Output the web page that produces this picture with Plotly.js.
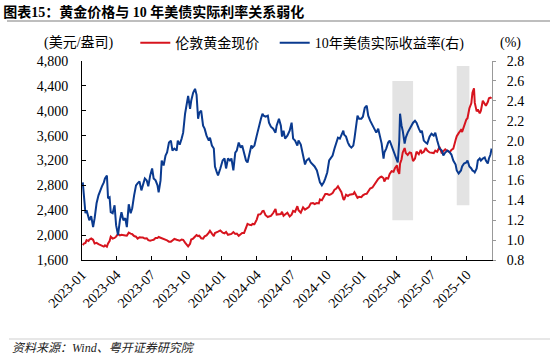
<!DOCTYPE html>
<html>
<head>
<meta charset="utf-8">
<script src="https://cdn.plot.ly/plotly-3.0.1.min.js"></script>
<style>
  html, body { margin: 0; padding: 0; background: #fff; }
  #chart { width: 550px; height: 357px; }
</style>
</head>
<body>
<div id="chart"></div>
<script>
// ---------------- DATA ----------------
const dates = [
  // 2023
  '2023-01-03','2023-01-06','2023-01-10','2023-01-13','2023-01-18','2023-01-20','2023-01-25','2023-01-30',
  '2023-02-03','2023-02-08','2023-02-13','2023-02-17','2023-02-22','2023-02-27',
  '2023-03-02','2023-03-07','2023-03-10','2023-03-14','2023-03-17','2023-03-22','2023-03-27','2023-03-31',
  '2023-04-05','2023-04-10','2023-04-14','2023-04-19','2023-04-24','2023-04-28',
  '2023-05-03','2023-05-08','2023-05-12','2023-05-17','2023-05-22','2023-05-26','2023-05-31',
  '2023-06-05','2023-06-09','2023-06-14','2023-06-19','2023-06-23','2023-06-28',
  '2023-07-03','2023-07-07','2023-07-12','2023-07-17','2023-07-20','2023-07-25','2023-07-28',
  '2023-08-02','2023-08-07','2023-08-11','2023-08-16','2023-08-21','2023-08-25','2023-08-30',
  '2023-09-05','2023-09-08','2023-09-13','2023-09-18','2023-09-22','2023-09-27',
  '2023-10-02','2023-10-05','2023-10-10','2023-10-13','2023-10-18','2023-10-23','2023-10-27','2023-10-31',
  '2023-11-03','2023-11-08','2023-11-13','2023-11-17','2023-11-22','2023-11-28',
  '2023-12-01','2023-12-06','2023-12-11','2023-12-14','2023-12-19','2023-12-22','2023-12-28',
  // 2024
  '2024-01-03','2024-01-08','2024-01-12','2024-01-17','2024-01-22','2024-01-26','2024-01-31',
  '2024-02-05','2024-02-09','2024-02-14','2024-02-19','2024-02-23','2024-02-28',
  '2024-03-04','2024-03-08','2024-03-13','2024-03-18','2024-03-21','2024-03-26',
  '2024-04-01','2024-04-05','2024-04-10','2024-04-12','2024-04-16','2024-04-19','2024-04-24','2024-04-30',
  '2024-05-03','2024-05-08','2024-05-14','2024-05-20','2024-05-23','2024-05-29',
  '2024-06-03','2024-06-06','2024-06-10','2024-06-14','2024-06-20','2024-06-26',
  '2024-07-01','2024-07-05','2024-07-10','2024-07-16','2024-07-19','2024-07-25','2024-07-31',
  '2024-08-05','2024-08-09','2024-08-15','2024-08-20','2024-08-26','2024-08-30',
  '2024-09-05','2024-09-10','2024-09-13','2024-09-18','2024-09-23','2024-09-27',
  '2024-10-02','2024-10-07','2024-10-11','2024-10-16','2024-10-21','2024-10-25','2024-10-30',
  '2024-11-04','2024-11-08','2024-11-13','2024-11-15','2024-11-20','2024-11-25','2024-11-29',
  '2024-12-04','2024-12-09','2024-12-12','2024-12-16','2024-12-20','2024-12-24','2024-12-30',
  // 2025
  '2025-01-03','2025-01-08','2025-01-13','2025-01-17','2025-01-22','2025-01-28',
  '2025-02-03','2025-02-07','2025-02-12','2025-02-18','2025-02-21','2025-02-26','2025-02-28',
  '2025-03-05','2025-03-10','2025-03-14','2025-03-19','2025-03-24','2025-03-28',
  '2025-04-02','2025-04-04','2025-04-08','2025-04-10','2025-04-14','2025-04-17','2025-04-22','2025-04-25','2025-04-30',
  '2025-05-05','2025-05-09','2025-05-14','2025-05-19','2025-05-23','2025-05-29',
  '2025-06-03','2025-06-06','2025-06-11','2025-06-16','2025-06-20','2025-06-26',
  '2025-07-01','2025-07-07','2025-07-11','2025-07-16','2025-07-22','2025-07-28',
  '2025-08-01','2025-08-06','2025-08-12','2025-08-18','2025-08-22','2025-08-27',
  '2025-09-02','2025-09-05','2025-09-10','2025-09-16','2025-09-19','2025-09-24','2025-09-30',
  '2025-10-03','2025-10-08','2025-10-13','2025-10-16','2025-10-20','2025-10-22','2025-10-27','2025-10-30',
  '2025-11-04','2025-11-07','2025-11-12','2025-11-17','2025-11-20','2025-11-25','2025-11-28',
  '2025-12-02','2025-12-05'
];

// London gold spot (USD/oz), left axis
const goldPrice = [
  // 2023
  1840,1865,1875,1920,1905,1926,1945,1925,
  1865,1875,1855,1840,1825,1815,
  1835,1815,1865,1905,1975,1945,1955,1975,
  2020,1995,2005,1995,1995,1990,
  2040,2025,2015,1985,1975,1945,1965,
  1960,1960,1945,1950,1920,1910,
  1920,1925,1955,1955,1970,1960,1955,
  1935,1935,1915,1895,1895,1915,1940,
  1925,1920,1910,1930,1925,1880,
  1830,1820,1860,1930,1945,1975,2000,1985,
  1990,1950,1945,1980,1995,2040,
  2070,2025,1985,2035,2040,2055,2075,
  // 2024
  2040,2030,2050,2005,2020,2020,2050,
  2020,2025,1990,2015,2035,2035,
  2115,2180,2165,2160,2180,2175,
  2250,2330,2335,2345,2385,2390,2320,2290,
  2300,2310,2355,2420,2330,2340,
  2340,2375,2310,2330,2360,2300,
  2330,2390,2375,2465,2400,2360,2445,
  2410,2430,2450,2510,2515,2500,
  2515,2510,2575,2560,2630,2660,
  2660,2645,2655,2675,2730,2745,2785,
  2740,2690,2580,2565,2650,2630,2650,
  2650,2660,2690,2645,2600,2615,2610,
  // 2025
  2640,2660,2665,2700,2750,2765,
  2815,2865,2905,2935,2940,2915,2860,
  2920,2910,2985,3030,3020,3080,
  3120,3040,2985,3150,3220,3330,3400,3320,3290,
  3330,3320,3190,3230,3340,3300,
  3370,3320,3340,3400,3360,3330,
  3330,3320,3360,3340,3420,3315,
  3350,3380,3350,3335,3370,3390,
  3530,3590,3640,3690,3660,3760,3860,
  3880,4040,4120,4290,4360,4130,3990,4020,
  3960,4000,4160,4100,4080,4140,4200,
  4210,4200
];

// 10Y US Treasury real yield (%), right axis
const realYield = [
  // 2023
  1.58,1.40,1.27,1.30,1.22,1.20,1.24,1.13,
  1.22,1.37,1.45,1.50,1.54,1.58,
  1.62,1.65,1.42,1.43,1.28,1.27,1.35,1.15,
  1.05,1.20,1.28,1.20,1.22,1.13,
  1.36,1.27,1.32,1.45,1.55,1.57,1.59,
  1.50,1.55,1.62,1.60,1.54,1.65,
  1.72,1.62,1.60,1.55,1.48,1.60,1.80,
  1.75,1.85,1.88,1.98,2.00,1.90,1.92,
  1.90,2.00,1.96,2.02,2.08,2.27,
  2.40,2.45,2.32,2.40,2.48,2.52,2.46,2.22,
  2.28,2.30,2.15,2.12,2.05,2.00,
  2.03,1.95,1.92,1.74,1.68,1.65,1.72,
  // 2024
  1.80,1.82,1.72,1.82,1.80,1.82,1.70,
  1.88,1.90,1.98,1.93,1.95,1.86,
  1.80,1.78,1.88,1.95,1.93,1.95,
  2.05,2.12,2.20,2.22,2.27,2.25,2.24,2.25,
  2.18,2.14,2.12,2.08,2.15,2.22,
  2.15,2.04,2.10,2.02,2.05,2.10,
  2.18,2.02,2.00,1.95,2.00,1.96,1.85,
  1.76,1.80,1.82,1.78,1.76,1.74,
  1.70,1.62,1.58,1.55,1.58,1.62,
  1.68,1.80,1.82,1.85,1.92,1.96,2.03,
  2.02,2.05,2.10,2.06,2.04,1.98,1.95,
  1.93,1.95,2.02,2.15,2.25,2.22,2.22,
  // 2025
  2.24,2.33,2.35,2.25,2.20,2.15,
  2.10,2.08,2.12,2.02,1.97,1.82,1.88,
  1.92,1.98,2.00,1.95,1.90,1.86,
  1.80,1.78,2.00,2.27,2.15,2.10,1.97,2.03,2.08,
  2.12,2.15,2.18,2.20,2.18,2.12,
  2.08,2.10,2.00,1.98,1.97,2.04,
  2.07,2.05,2.08,2.00,1.92,1.90,
  1.85,1.88,1.90,1.88,1.86,1.80,
  1.76,1.70,1.67,1.70,1.74,1.77,1.78,
  1.80,1.74,1.72,1.70,1.69,1.68,1.72,1.80,
  1.82,1.80,1.82,1.83,1.80,1.77,1.82,
  1.86,1.92
];

// Shaded periods (right-axis units)
const shadeStart = ['2025-03-21', '2025-09-05'];
const shadeEnd   = ['2025-05-14', '2025-10-08'];
const shadeLow   = [1.2, 1.35];
const shadeHigh  = [2.6, 2.75];

const seriesNames = ['伦敦黄金现价', '10年美债实际收益率(右)'];
const xRange = ['2023-01-01', '2025-12-06'];
const leftRange = [1600, 4800];
const rightRange = [0.8, 2.8];

// ---------------- CHART ----------------
const serif = 'Liberation Serif, "Noto Sans CJK SC", serif';
const RED = '#D7141E';
const BLUE = '#0A3A8F';

const traces = [
  {
    x: dates, y: goldPrice, type: 'scatter', mode: 'lines',
    name: seriesNames[0], line: { color: RED, width: 2 },
    yaxis: 'y', legend: 'legend'
  },
  {
    x: dates, y: realYield, type: 'scatter', mode: 'lines',
    name: seriesNames[1], line: { color: BLUE, width: 2 },
    yaxis: 'y2', legend: 'legend2'
  }
];

const shapes = shadeStart.map((s, i) => ({
  type: 'rect', xref: 'x', yref: 'y2',
  x0: s, x1: shadeEnd[i], y0: shadeLow[i], y1: shadeHigh[i],
  fillcolor: '#E3E3E3', line: { width: 0 }, layer: 'below'
}));
// title underline & footer rule (paper coords, outside plot area)
shapes.push({ type: 'line', xref: 'paper', yref: 'paper',
  x0: -0.183, x1: 1.15, y0: 1.201, y1: 1.201, line: { color: '#A8A8A8', width: 1.5 } });
shapes.push({ type: 'line', xref: 'paper', yref: 'paper',
  x0: -0.178, x1: 1.15, y0: -0.397, y1: -0.397, line: { color: '#CFCFCF', width: 1.2 } });

const layout = {
  width: 550, height: 357,
  margin: { l: 82, r: 58, t: 61, b: 97 },
  paper_bgcolor: '#fff', plot_bgcolor: '#fff',
  font: { family: serif, size: 14, color: '#000' },
  title: {
    text: '<b>图表15：黄金价格与 10 年美债实际利率关系弱化</b>',
    font: { family: serif, size: 14, color: '#000' },
    xref: 'container', yref: 'container',
    x: 0.006, xanchor: 'left', y: 0.966, yanchor: 'middle'
  },
  xaxis: {
    type: 'date', range: xRange,
    tick0: '2023-01-01', dtick: 'M3', tickformat: '%Y-%m',
    tickangle: -45, ticks: 'inside', ticklen: 4, tickcolor: '#000',
    showline: true, linecolor: '#000', linewidth: 1,
    showgrid: false, zeroline: false,
    tickfont: { family: serif, size: 14, color: '#000' }
  },
  yaxis: {
    range: leftRange, dtick: 400, tickformat: ',d',
    ticks: 'inside', ticklen: 4, tickcolor: '#000',
    showline: true, linecolor: '#000', linewidth: 1,
    showgrid: false, zeroline: false,
    ticklabelstandoff: 10,
    tickfont: { family: serif, size: 14, color: '#000' }
  },
  yaxis2: {
    range: rightRange, dtick: 0.2, tickformat: '.1f',
    overlaying: 'y', side: 'right',
    ticks: 'outside', ticklen: 3, tickcolor: '#999',
    showline: true, linecolor: '#999', linewidth: 1,
    showgrid: false, zeroline: false,
    ticklabelstandoff: 8,
    tickfont: { family: serif, size: 14, color: '#000' }
  },
  showlegend: true,
  legend: {
    orientation: 'h', x: 0.13, xanchor: 'left', y: 1.09, yanchor: 'middle',
    bgcolor: 'rgba(0,0,0,0)', borderwidth: 0,
    font: { family: serif, size: 14, color: '#000' }
  },
  legend2: {
    orientation: 'h', x: 0.47, xanchor: 'left', y: 1.09, yanchor: 'middle',
    bgcolor: 'rgba(0,0,0,0)', borderwidth: 0,
    font: { family: serif, size: 14, color: '#000' }
  },
  shapes: shapes,
  annotations: [
    { text: '(美元/盎司)', xref: 'paper', yref: 'paper', x: -0.007, y: 1.09,
      xanchor: 'center', yanchor: 'middle', showarrow: false,
      font: { family: serif, size: 14, color: '#000' } },
    { text: '(%)', xref: 'paper', yref: 'paper', x: 1.044, y: 1.09,
      xanchor: 'center', yanchor: 'middle', showarrow: false,
      font: { family: serif, size: 14, color: '#000' } },
    { text: '<i>资料来源：Wind、粤开证券研究院</i>', xref: 'paper', yref: 'paper',
      x: -0.176, y: -0.44, xanchor: 'left', yanchor: 'middle', showarrow: false,
      font: { family: serif, size: 12, color: '#222' } }
  ]
};

Plotly.newPlot('chart', traces, layout, { displayModeBar: false, staticPlot: true });
</script>
</body>
</html>
